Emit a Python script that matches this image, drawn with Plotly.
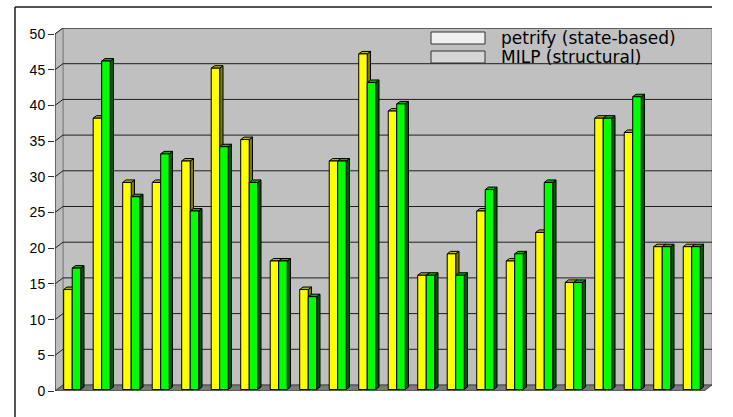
import plotly.graph_objects as go

# Results per benchmark: petrify (state-based) vs MILP (structural)
benchmarks = list(range(22))
petrify = [14, 38, 29, 29, 32, 45, 35, 18, 14, 32, 47, 39, 16, 19, 25, 18, 22, 15, 38, 36, 20, 20]
milp = [17, 46, 27, 33, 25, 34, 29, 18, 13, 32, 43, 40, 16, 16, 28, 19, 29, 15, 38, 41, 20, 20]
series_names = ["petrify (state-based)", "MILP (structural)"]
y_ticks = [0, 5, 10, 15, 20, 25, 30, 35, 40, 45, 50]

# ---- pseudo-3D geometry (data units) ----
W, H = 733, 417
ML, MR, MT, MB = 55, 21, 28, 26
DX, DY = 0.27, 0.84          # depth of the walls
BX, BY = 0.083, 0.21         # bars sit slightly behind the front edge
BDX, BDY = 0.112, 0.35       # depth of each bar
BW = 0.288                   # bar width
X0, X1 = -0.5, len(benchmarks) - 0.5
YMAX = y_ticks[-1]

WALL = "#c0c0c0"
EDGE = "#808080"
GRID = "#1e1e1e"


def poly(pts):
    return "M " + " L ".join(f"{x},{y}" for x, y in pts) + " Z"


shapes = []
# back wall
shapes.append(dict(type="path", xref="x", yref="y", layer="below",
                   path=poly([(X0 + DX, DY), (X1 + DX, DY), (X1 + DX, YMAX + DY), (X0 + DX, YMAX + DY)]),
                   fillcolor=WALL, line=dict(color=EDGE, width=1)))
# side wall
shapes.append(dict(type="path", xref="x", yref="y", layer="below",
                   path=poly([(X0, 0), (X0 + DX, DY), (X0 + DX, YMAX + DY), (X0, YMAX)]),
                   fillcolor="#bdbdbd", line=dict(color=EDGE, width=1)))
# grid lines on back and side walls
for t in y_ticks[1:]:
    shapes.append(dict(type="line", xref="x", yref="y", layer="below",
                       x0=X0 + DX, x1=X1 + DX, y0=t + DY, y1=t + DY,
                       line=dict(color=GRID, width=1)))
    shapes.append(dict(type="line", xref="x", yref="y", layer="below",
                       x0=X0, x1=X0 + DX, y0=t, y1=t + DY,
                       line=dict(color=GRID, width=1)))
# floor
shapes.append(dict(type="path", xref="x", yref="y", layer="below",
                   path=poly([(X0, 0), (X1, 0), (X1 + DX, DY), (X0 + DX, DY)]),
                   fillcolor="#7a7a7a", line=dict(color="#404040", width=1)))
# left front edge (value axis line)
shapes.append(dict(type="line", xref="x", yref="y", layer="below",
                   x0=X0, x1=X0, y0=0, y1=YMAX, line=dict(color="#303030", width=1)))

# top and side faces of each bar
faces = [(petrify, -BW, "#b5b500", "#7a7a00"), (milp, 0.0, "#00b400", "#005a00")]
for vals, off, top_col, side_col in faces:
    for i, v in zip(benchmarks, vals):
        xl = i + BX + off
        xr = xl + BW
        yt = BY + v
        shapes.append(dict(type="path", xref="x", yref="y", layer="below",
                           path=poly([(xr, BY), (xr + BDX, BY + BDY), (xr + BDX, yt + BDY), (xr, yt)]),
                           fillcolor=side_col, line=dict(color="#000000", width=1)))
        shapes.append(dict(type="path", xref="x", yref="y", layer="below",
                           path=poly([(xl, yt), (xr, yt), (xr + BDX, yt + BDY), (xl + BDX, yt + BDY)]),
                           fillcolor=top_col, line=dict(color="#000000", width=1)))

# chart area frame (top and left edges)
pw, ph = W - ML - MR, H - MT - MB
fx0 = (15 - ML) / pw
fy1 = ((H - MB) - 7) / ph
frame = dict(color="#1a1a1a", width=1.5)
shapes.append(dict(type="line", xref="paper", yref="paper", layer="above",
                   x0=fx0, x1=1.0, y0=fy1, y1=fy1, line=frame))
shapes.append(dict(type="line", xref="paper", yref="paper", layer="above",
                   x0=fx0, x1=fx0, y0=fy1, y1=-MB / ph, line=frame))

# legend swatches and labels
legend_y = [(H - MB - 38) / ph, (H - MB - 57) / ph]
swatch_cols = ["#f0f0f0", "#d6d6d6"]
annotations = []
for name, ly, sc in zip(series_names, legend_y, swatch_cols):
    shapes.append(dict(type="rect", xref="paper", yref="paper", layer="above",
                       x0=(431 - ML) / pw, x1=(485 - ML) / pw,
                       y0=ly - 6 / ph, y1=ly + 6 / ph,
                       fillcolor=sc, line=dict(color="#333333", width=1)))
    annotations.append(dict(xref="paper", yref="paper", x=(499 - ML) / pw, y=ly,
                            xanchor="left", yanchor="middle", showarrow=False,
                            text=name, font=dict(family="DejaVu Sans", size=17, color="#000000")))

fig = go.Figure()
fig.add_trace(go.Bar(x=[i + BX for i in benchmarks], y=petrify, base=BY, width=BW, offset=-BW,
                     name=series_names[0], marker=dict(color="#ffff00", line=dict(color="#000000", width=1))))
fig.add_trace(go.Bar(x=[i + BX for i in benchmarks], y=milp, base=BY, width=BW, offset=0,
                     name=series_names[1], marker=dict(color="#00ff00", line=dict(color="#000000", width=1))))

fig.update_layout(
    width=W, height=H,
    margin=dict(l=ML, r=MR, t=MT, b=MB, pad=0),
    paper_bgcolor="#ffffff", plot_bgcolor="#ffffff",
    barmode="overlay", showlegend=False,
    shapes=shapes, annotations=annotations,
    xaxis=dict(range=[X0, X1 + DX], showgrid=False, zeroline=False, showticklabels=False,
               ticks="", showline=False, fixedrange=True),
    yaxis=dict(range=[0, YMAX + DY], tickvals=y_ticks, ticktext=[str(t) for t in y_ticks],
               showgrid=False, zeroline=False, showline=False, ticks="outside", ticklen=6,
               tickcolor="#303030", tickfont=dict(family="Liberation Sans", size=14, color="#000000"),
               fixedrange=True),
)

fig.write_html(
    "out.html",
    config={"displayModeBar": False, "staticPlot": True},
    post_script="document.documentElement.style.overflow='hidden';document.body.style.overflow='hidden';",
)
